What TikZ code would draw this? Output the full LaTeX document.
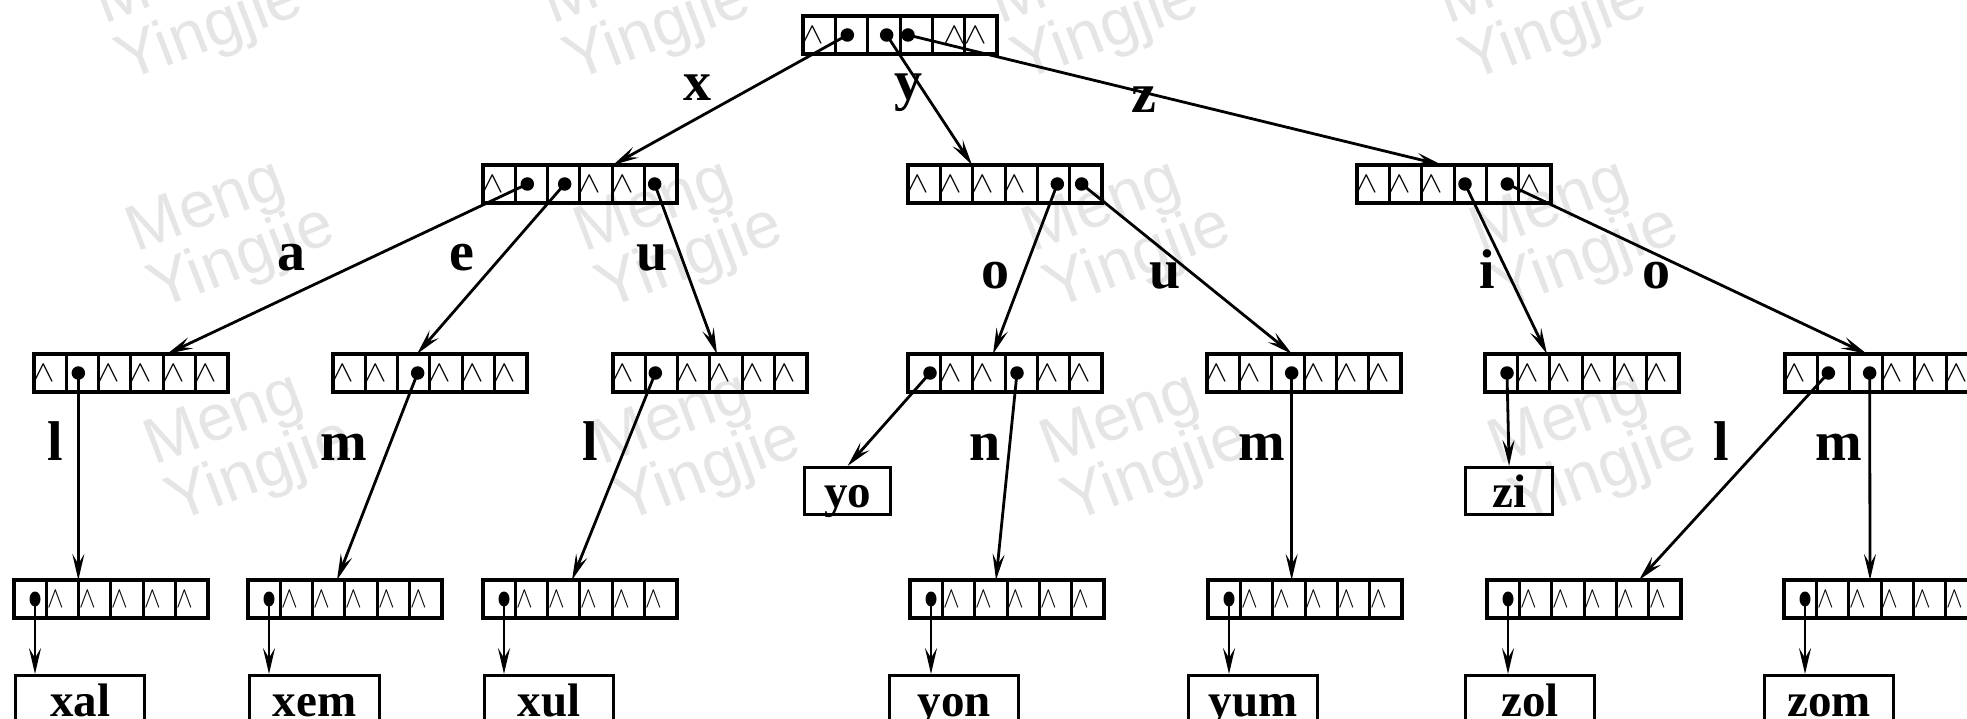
\documentclass[tikz,border=0pt]{standalone}
\usepackage{fontspec}
\setmainfont{Liberation Serif}
\newfontfamily\markfont{Liberation Sans}
\usetikzlibrary{arrows.meta,shapes.geometric,calc}

% one trie node: six pointer cells in a row
\newcommand\cellrow[3]{%
  \node[rowbox] (#1) at (#2,#3) {};
  \foreach \kk in {1,...,5} {%
    \draw[boxline] ($(#1.north west)+(\kk*32.33,0)$) -- ($(#1.south west)+(\kk*32.33,0)$);
  }%
}
% a null pointer in cell #2 of node #1, #3 from the cell's left side
\newcommand\nilat[3]{%
  \node[nilmark] (#1-n#2) at ($(#1.west)+(#2*32.33+#3,0)$) {\scalebox{1.35}[1.2]{$\wedge$}};}
\newcommand\nilthin[3]{%
  \node[nilmark] (#1-n#2) at ($(#1.west)+(#2*32.33+#3,0)$) {\scalebox{1.0}[1.2]{$\wedge$}};}
% a pointer dot in cell #2 of node #1
\newcommand\ptrat[3]{%
  \node[ptr] (#1-d#2) at ($(#1.west)+(#2*32.33+#3,0)$) {};}
\newcommand\ptrtallat[3]{%
  \node[ptrtall] (#1-d#2) at ($(#1.west)+(#2*32.33+#3,0)$) {};}

\begin{document}
\begin{tikzpicture}[x=1pt,y=-1pt,
  rowbox/.style={draw,line width=3.2pt,minimum width=194pt,minimum height=38pt,
    inner sep=0pt,outer sep=0pt,anchor=north west},
  boxline/.style={line width=3pt},
  nilmark/.style={inner sep=0pt,font=\fontsize{24.88}{25}\selectfont},
  ptr/.style={circle,fill,inner sep=0pt,minimum size=13.5pt},
  ptrtall/.style={ellipse,fill,inner sep=0pt,minimum width=11pt,minimum height=15pt},
  link/.style={line width=2.8pt,-{Stealth[length=26pt,width=12pt,inset=10pt]}},
  lab/.style={font=\fontsize{56}{56}\selectfont\bfseries,anchor=base,inner sep=0pt},
  leaf/.style={draw,line width=3.2pt,font=\fontsize{47}{47}\selectfont\bfseries,
    text height=32pt,text depth=0pt,inner sep=0pt,anchor=north west},
  wmark/.style={rotate=21,align=left,inner sep=0pt,text=black!10,
    font=\markfont\fontsize{65}{54}\selectfont}
]
\useasboundingbox (0,0) rectangle (1967,719);

% background marks
\node[wmark] (wmA0) at (200,4) {Meng\\Yingjie};
\node[wmark] (wmA1) at (648,4) {Meng\\Yingjie};
\node[wmark] (wmA2) at (1096,4) {Meng\\Yingjie};
\node[wmark] (wmA3) at (1544,4) {Meng\\Yingjie};
\node[wmark] (wmB0) at (232,232) {Meng\\Yingjie};
\node[wmark] (wmB1) at (680,232) {Meng\\Yingjie};
\node[wmark] (wmB2) at (1128,232) {Meng\\Yingjie};
\node[wmark] (wmB3) at (1576,232) {Meng\\Yingjie};
\node[wmark] (wmC0) at (250,445) {Meng\\Yingjie};
\node[wmark] (wmC1) at (698,445) {Meng\\Yingjie};
\node[wmark] (wmC2) at (1146,445) {Meng\\Yingjie};
\node[wmark] (wmC3) at (1594,445) {Meng\\Yingjie};

% root
\cellrow{T}{803}{16}
\nilat{T}{0}{10} \nilat{T}{4}{22} \nilat{T}{5}{11}
\ptrat{T}{1}{12} \ptrat{T}{2}{19} \ptrat{T}{3}{8}

% level 1
\cellrow{A}{483}{165}
\nilat{A}{0}{10} \nilat{A}{3}{10} \nilat{A}{4}{10}
\ptrat{A}{1}{12} \ptrat{A}{2}{17} \ptrat{A}{5}{10}
\cellrow{B}{908}{165}
\nilat{B}{0}{10} \nilat{B}{1}{10} \nilat{B}{2}{10} \nilat{B}{3}{10}
\ptrat{B}{4}{20} \ptrat{B}{5}{12}
\cellrow{C}{1357}{165}
\nilat{C}{0}{10} \nilat{C}{1}{10} \nilat{C}{2}{10} \nilat{C}{5}{11}
\ptrat{C}{3}{11} \ptrat{C}{4}{21}

% level 2
\cellrow{P}{34}{354}
\nilat{P}{0}{10} \nilat{P}{2}{10} \nilat{P}{3}{10} \nilat{P}{4}{10} \nilat{P}{5}{10}
\ptrat{P}{1}{12}
\cellrow{Q}{333}{354}
\nilat{Q}{0}{10} \nilat{Q}{1}{10} \nilat{Q}{3}{10} \nilat{Q}{4}{10} \nilat{Q}{5}{10}
\ptrat{Q}{2}{20}
\cellrow{R}{613}{354}
\nilat{R}{0}{10} \nilat{R}{2}{10} \nilat{R}{3}{10} \nilat{R}{4}{10} \nilat{R}{5}{10}
\ptrat{R}{1}{10}
\cellrow{S}{908}{354}
\nilat{S}{1}{10} \nilat{S}{2}{10} \nilat{S}{4}{10} \nilat{S}{5}{10}
\ptrat{S}{0}{22} \ptrat{S}{3}{12}
\cellrow{U}{1207}{354}
\nilat{U}{0}{10} \nilat{U}{1}{10} \nilat{U}{3}{10} \nilat{U}{4}{10} \nilat{U}{5}{10}
\ptrat{U}{2}{20}
\cellrow{V}{1485}{354}
\nilat{V}{1}{10} \nilat{V}{2}{10} \nilat{V}{3}{10} \nilat{V}{4}{10} \nilat{V}{5}{10}
\ptrat{V}{0}{22}
\cellrow{W}{1785}{354}
\nilat{W}{0}{10} \nilat{W}{3}{10} \nilat{W}{4}{10} \nilat{W}{5}{10}
\ptrat{W}{1}{11} \ptrat{W}{2}{20}

% level 3
\cellrow{Ka}{14}{580}
\nilthin{Ka}{1}{9} \nilthin{Ka}{2}{9} \nilthin{Ka}{3}{9} \nilthin{Ka}{4}{9} \nilthin{Ka}{5}{9}
\ptrtallat{Ka}{0}{21}
\cellrow{Kb}{248}{580}
\nilthin{Kb}{1}{9} \nilthin{Kb}{2}{9} \nilthin{Kb}{3}{9} \nilthin{Kb}{4}{9} \nilthin{Kb}{5}{9}
\ptrtallat{Kb}{0}{21}
\cellrow{Kc}{483}{580}
\nilthin{Kc}{1}{9} \nilthin{Kc}{2}{9} \nilthin{Kc}{3}{9} \nilthin{Kc}{4}{9} \nilthin{Kc}{5}{9}
\ptrtallat{Kc}{0}{21}
\cellrow{Kd}{910}{580}
\nilthin{Kd}{1}{9} \nilthin{Kd}{2}{9} \nilthin{Kd}{3}{9} \nilthin{Kd}{4}{9} \nilthin{Kd}{5}{9}
\ptrtallat{Kd}{0}{21}
\cellrow{Ke}{1208}{580}
\nilthin{Ke}{1}{9} \nilthin{Ke}{2}{9} \nilthin{Ke}{3}{9} \nilthin{Ke}{4}{9} \nilthin{Ke}{5}{9}
\ptrtallat{Ke}{0}{21}
\cellrow{Kf}{1487}{580}
\nilthin{Kf}{1}{9} \nilthin{Kf}{2}{9} \nilthin{Kf}{3}{9} \nilthin{Kf}{4}{9} \nilthin{Kf}{5}{9}
\ptrtallat{Kf}{0}{21}
\cellrow{Kg}{1784}{580}
\nilthin{Kg}{1}{9} \nilthin{Kg}{2}{9} \nilthin{Kg}{3}{9} \nilthin{Kg}{4}{9} \nilthin{Kg}{5}{9}
\ptrtallat{Kg}{0}{21}

% words
\node[leaf,minimum width=129pt,minimum height=50pt] (xal) at (14,674) {xal};
\node[leaf,minimum width=130pt,minimum height=50pt] (xem) at (248,674) {xem};
\node[leaf,minimum width=129pt,minimum height=50pt] (xul) at (483,674) {xul};
\node[leaf,minimum width=86pt,minimum height=47pt] (yo) at (803,466) {yo};
\node[leaf,minimum width=129pt,minimum height=50pt] (yon) at (888,674) {yon};
\node[leaf,minimum width=129pt,minimum height=50pt] (yum) at (1187,674) {yum};
\node[leaf,minimum width=87pt,minimum height=47pt] (zi) at (1464,466) {zi};
\node[leaf,minimum width=129pt,minimum height=50pt] (zol) at (1464,674) {zol};
\node[leaf,minimum width=129pt,minimum height=50pt] (zom) at (1763,674) {zom};

% pointers
\draw[link] (T-d1.center) -- ($(A.north west)+(130,0)$);
\draw[link] (T-d2.center) -- ($(B.north west)+(64,0)$);
\draw[link] (T-d3.center) -- ($(C.north west)+(85,0)$);
\draw[link] (A-d1.center) -- ($(P.north west)+(133,0)$);
\draw[link] (A-d2.center) -- ($(Q.north west)+(84,0)$);
\draw[link] (A-d5.center) -- ($(R.north west)+(104,0)$);
\draw[link] (B-d4.center) -- ($(S.north west)+(85,0)$);
\draw[link] (B-d5.center) -- ($(U.north west)+(85,0)$);
\draw[link] (C-d3.center) -- ($(V.north west)+(62,0)$);
\draw[link] (C-d4.center) -- ($(W.north west)+(82,0)$);
\draw[link] (P-d1.center) -- (P-d1.center |- Ka.north);
\draw[link] (Q-d2.center) -- ($(Kb.north west)+(89,0)$);
\draw[link] (R-d1.center) -- ($(Kc.north west)+(89,0)$);
\draw[link] (S-d0.center) -- (yo.north);
\draw[link] (S-d3.center) -- ($(Kd.north west)+(86,0)$);
\draw[link] (U-d2.center) -- (U-d2.center |- Ke.north);
\draw[link] (V-d0.center) -- (zi.north);
\draw[link] (W-d1.center) -- ($(Kf.north west)+(152,0)$);
\draw[link] (W-d2.center) -- ($(Kg.north west)+(86,0)$);
\draw[link] (Ka-d0.center) -- (Ka-d0.center |- xal.north);
\draw[link] (Kb-d0.center) -- (Kb-d0.center |- xem.north);
\draw[link] (Kc-d0.center) -- (Kc-d0.center |- xul.north);
\draw[link] (Kd-d0.center) -- (Kd-d0.center |- yon.north);
\draw[link] (Ke-d0.center) -- (Ke-d0.center |- yum.north);
\draw[link] (Kf-d0.center) -- (Kf-d0.center |- zol.north);
\draw[link] (Kg-d0.center) -- (Kg-d0.center |- zom.north);

% edge letters
\node[lab] (lx) at (697,101) {x};
\node[lab] (ly) at (908,100) {y};
\node[lab] (lz) at (1144,113) {z};
\node[lab] (la) at (291,271) {a};
\node[lab] (le) at (462,271) {e};
\node[lab] (lu1) at (652,271) {u};
\node[lab] (lo1) at (995,288) {o};
\node[lab] (lu2) at (1165,288) {u};
\node[lab] (li) at (1487,288) {i};
\node[lab] (lo2) at (1656,288) {o};
\node[lab] (ll1) at (55,460) {l};
\node[lab] (lm1) at (344,460) {m};
\node[lab] (ll2) at (590,460) {l};
\node[lab] (ln) at (985,460) {n};
\node[lab] (lm2) at (1262,460) {m};
\node[lab] (ll3) at (1721,460) {l};
\node[lab] (lm3) at (1839,460) {m};
\end{tikzpicture}
\end{document}
